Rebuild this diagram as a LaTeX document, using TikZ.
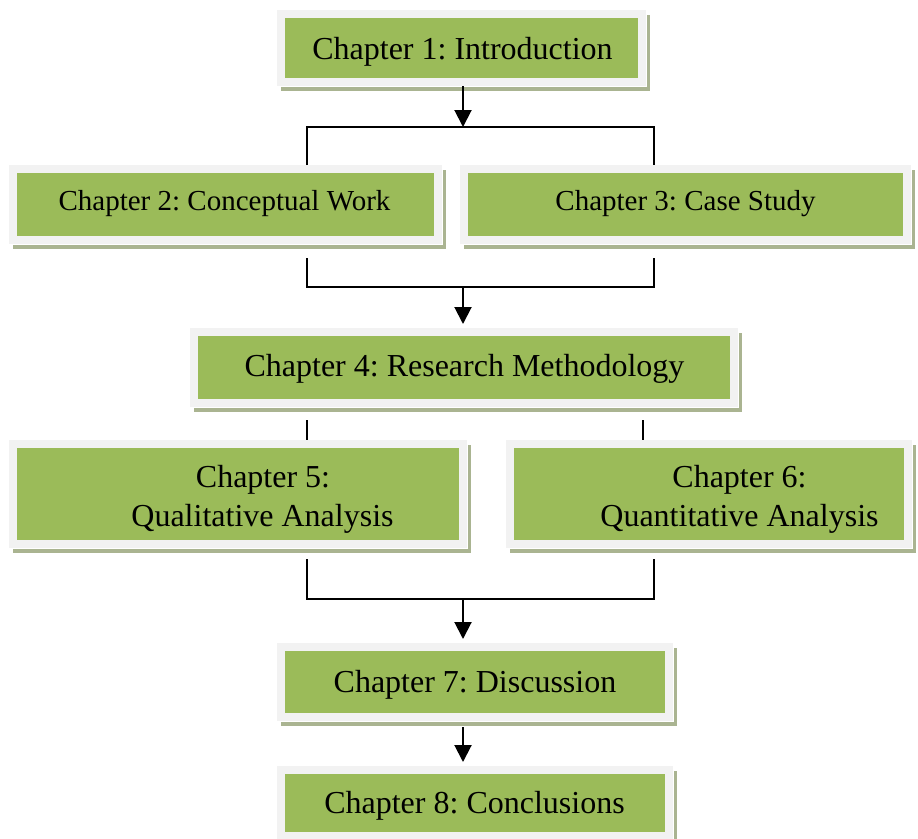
\documentclass[tikz,border=0pt]{standalone}
\usepackage{fontspec}
\setmainfont{Liberation Serif}
\usetikzlibrary{shadows,arrows.meta}

\definecolor{boxgreen}{HTML}{9BBB59}
\definecolor{framegray}{HTML}{F2F2F2}
\definecolor{shadowgray}{RGB}{170,180,145}

\tikzset{
  chapbox/.style={rectangle, fill=boxgreen, draw=framegray, line width=8pt,
    inner sep=0pt,
    general shadow={shadow xshift=4pt, shadow yshift=-5pt,
      fill=shadowgray, draw=shadowgray, line width=8pt},
    general shadow={draw=white, line width=10pt}},
  bigtext/.style={anchor=base, inner sep=0pt, font=\fontsize{32}{38}\selectfont},
  midtext/.style={anchor=base, inner sep=0pt, font=\fontsize{29}{35}\selectfont},
  link/.style={line width=2pt, black},
  arrowlink/.style={link, -{Triangle[width=17pt,length=17pt]}},
}

\begin{document}
\frenchspacing
\begin{tikzpicture}[x=1pt, y=-1pt]
\useasboundingbox (0,0) rectangle (918,838);

% chapter boxes
\node[chapbox, minimum width=361pt, minimum height=68pt] (c1) at (461.5,48) {};
\node[chapbox, minimum width=425pt, minimum height=71pt] (c2) at (225.5,204.5) {};
\node[chapbox, minimum width=443pt, minimum height=71pt] (c3) at (685.5,204.5) {};
\node[chapbox, minimum width=540pt, minimum height=71pt] (c4) at (464,367.5) {};
\node[chapbox, minimum width=450pt, minimum height=100pt] (c5) at (238,494) {};
\node[chapbox, minimum width=398pt, minimum height=100pt] (c6) at (709,494) {};
\node[chapbox, minimum width=388pt, minimum height=70pt] (c7) at (475,682) {};
\node[chapbox, minimum width=388pt, minimum height=66pt] (c8) at (475,803) {};

% chapter titles
\node[bigtext] (t1) at (462.5,59) {Chapter 1: Introduction};
\node[midtext] (t2) at (224.5,210) {Chapter 2: Conceptual Work};
\node[midtext] (t3) at (685.5,210) {Chapter 3: Case Study};
\node[bigtext] (t4) at (464.5,376) {Chapter 4: Research Methodology};
\node[bigtext] (t5a) at (263,487) {Chapter 5:};
\node[bigtext] (t5b) at (262.5,526) {Qualitative Analysis};
\node[bigtext] (t6a) at (739.5,487) {Chapter 6:};
\node[bigtext] (t6b) at (739.5,526) {Quantitative Analysis};
\node[bigtext] (t7) at (475,692) {Chapter 7: Discussion};
\node[bigtext] (t8) at (474.5,813) {Chapter 8: Conclusions};

% junction points of the connectors
\coordinate (j1) at (463,127);
\coordinate (j1l) at (307,127);
\coordinate (j1r) at (654,127);
\coordinate (j2l) at (307,287);
\coordinate (j2r) at (654,287);
\coordinate (j2) at (463,287);
\coordinate (s2) at (307,258);
\coordinate (s3) at (654,258);
\coordinate (s4l) at (307,420);
\coordinate (s4r) at (643,420);
\coordinate (s5) at (307,559);
\coordinate (s6) at (654,559);
\coordinate (j3l) at (307,599);
\coordinate (j3r) at (654,599);
\coordinate (j3) at (463,599);
\coordinate (s7) at (463,727);

% connectors
\draw[arrowlink] (c1.south -| j1) -- (j1);
\draw[link] (j1l |- c2.north) -- (j1l) -- (j1r) -- (j1r |- c3.north);
\draw[link] (s2) -- (j2l) -- (j2r) -- (s3);
\draw[arrowlink, shorten >=4pt] (j2) -- (j2 |- c4.north);
\draw[link] (s4l) -- (s4l |- c5.north);
\draw[link] (s4r) -- (s4r |- c6.north);
\draw[link] (s5) -- (j3l) -- (j3r) -- (s6);
\draw[arrowlink, shorten >=4pt] (j3) -- (j3 |- c7.north);
\draw[arrowlink, shorten >=4pt] (s7) -- (s7 |- c8.north);
\end{tikzpicture}
\end{document}
